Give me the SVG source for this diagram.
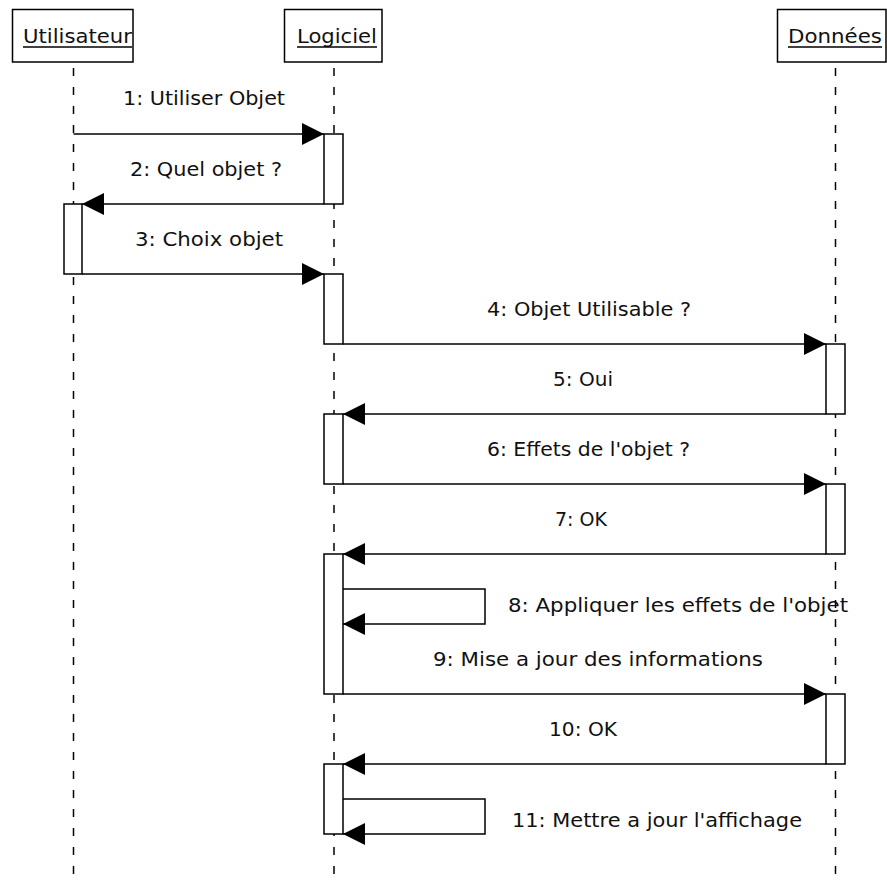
<svg xmlns="http://www.w3.org/2000/svg" width="887" height="880" viewBox="0 0 887 880">
  <style>
    .head { fill: #fff; stroke: #000; stroke-width: 1.5; }
    .life { stroke: #000; stroke-width: 1.5; stroke-dasharray: 8 11; fill: none; }
    .act { fill: #fff; stroke: #000; stroke-width: 1.5; }
    .msg { stroke: #000; stroke-width: 1.5; fill: none; marker-end: url(#arrow); }
    .ul { stroke: #000; stroke-width: 1.5; }
    text { font-family: "DejaVu Sans", "Liberation Sans", sans-serif; font-size: 20px; fill: #111; }
  </style>
  <defs>
    <marker id="arrow" markerUnits="userSpaceOnUse" markerWidth="23" markerHeight="23" refX="22" refY="11" orient="auto">
      <path d="M0,0 L22,11 L0,22 Z" fill="#000"/>
    </marker>
  </defs>
  <rect width="887" height="880" fill="#fff"/>

  <!-- Lifelines -->
  <g id="lifelines">
    <line class="life" x1="73.5" y1="68" x2="73.5" y2="880"/>
    <line class="life" x1="334" y1="68" x2="334" y2="880"/>
    <line class="life" x1="835.5" y1="68" x2="835.5" y2="880"/>
  </g>

  <!-- Participants -->
  <g id="utilisateur">
    <rect class="head" x="12.5" y="9.5" width="120.5" height="52.5"/>
    <text x="23" y="43" textLength="109" lengthAdjust="spacingAndGlyphs">Utilisateur</text>
    <line class="ul" x1="23" y1="47" x2="132" y2="47"/>
    <rect class="act" x="64" y="204" width="18" height="70"/>
  </g>
  <g id="logiciel">
    <rect class="head" x="284.5" y="9.5" width="97.5" height="52.5"/>
    <text x="297" y="43" textLength="80" lengthAdjust="spacingAndGlyphs">Logiciel</text>
    <line class="ul" x1="297" y1="47" x2="377" y2="47"/>
    <rect class="act" x="324" y="134" width="19" height="70"/>
    <rect class="act" x="324" y="274" width="19" height="70"/>
    <rect class="act" x="324" y="414" width="19" height="70"/>
    <rect class="act" x="324" y="554" width="19" height="140"/>
    <rect class="act" x="324" y="764" width="19" height="70"/>
  </g>
  <g id="donnees">
    <rect class="head" x="777.5" y="9.5" width="108.5" height="52.5"/>
    <text x="788" y="43" textLength="94" lengthAdjust="spacingAndGlyphs">Données</text>
    <line class="ul" x1="788" y1="47" x2="882" y2="47"/>
    <rect class="act" x="826" y="344" width="19" height="70"/>
    <rect class="act" x="826" y="484" width="19" height="70"/>
    <rect class="act" x="826" y="694" width="19" height="70"/>
  </g>

  <!-- Messages -->
  <g id="messages">
    <path class="msg" d="M73.5,134 H324"/>
    <path class="msg" d="M324,204 H82"/>
    <path class="msg" d="M82,274 H324"/>
    <path class="msg" d="M343,344 H826"/>
    <path class="msg" d="M826,414 H343"/>
    <path class="msg" d="M343,484 H826"/>
    <path class="msg" d="M826,554 H343"/>
    <path class="msg" d="M343,589 H485 V624 H343"/>
    <path class="msg" d="M343,694 H826"/>
    <path class="msg" d="M826,764 H343"/>
    <path class="msg" d="M343,799 H485 V834 H343"/>
  </g>

  <!-- Message labels -->
  <g id="labels">
    <text x="123" y="105" textLength="162" lengthAdjust="spacingAndGlyphs">1: Utiliser Objet</text>
    <text x="130" y="176" textLength="152" lengthAdjust="spacingAndGlyphs">2: Quel objet ?</text>
    <text x="135" y="246" textLength="148" lengthAdjust="spacingAndGlyphs">3: Choix objet</text>
    <text x="487" y="316" textLength="204" lengthAdjust="spacingAndGlyphs">4: Objet Utilisable ?</text>
    <text x="553" y="386" textLength="60" lengthAdjust="spacingAndGlyphs">5: Oui</text>
    <text x="487" y="456" textLength="203" lengthAdjust="spacingAndGlyphs">6: Effets de l'objet ?</text>
    <text x="555" y="526" textLength="52" lengthAdjust="spacingAndGlyphs">7: OK</text>
    <text x="508" y="612" textLength="340" lengthAdjust="spacingAndGlyphs">8: Appliquer les effets de l'objet</text>
    <text x="433" y="666" textLength="330" lengthAdjust="spacingAndGlyphs">9: Mise a jour des informations</text>
    <text x="549" y="736" textLength="68" lengthAdjust="spacingAndGlyphs">10: OK</text>
    <text x="512" y="827" textLength="290" lengthAdjust="spacingAndGlyphs">11: Mettre a jour l'affichage</text>
  </g>
</svg>
